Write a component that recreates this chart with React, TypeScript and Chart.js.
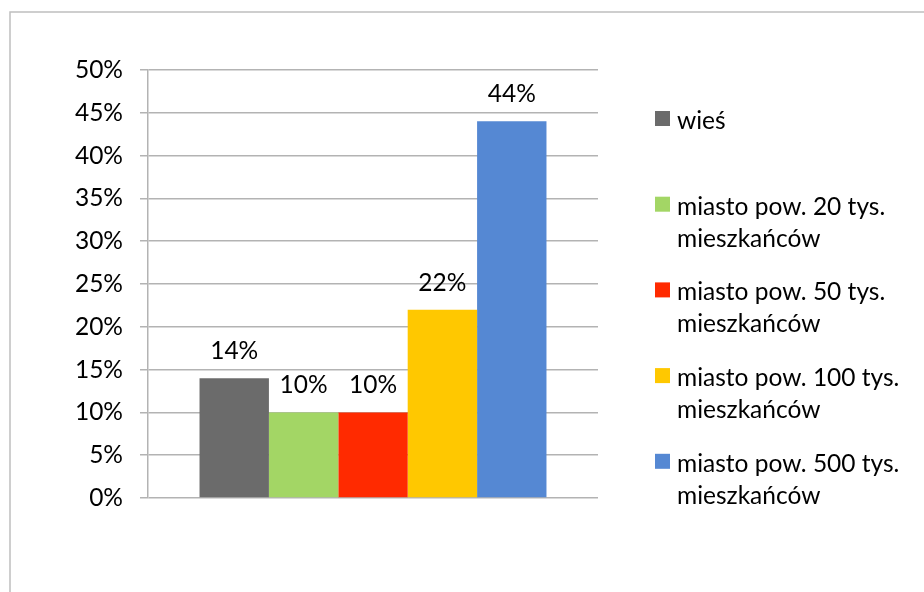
import React, { useEffect, useRef } from "react";
import { Chart, registerables } from "chart.js";

Chart.register(...registerables);

const categories = [""];
const seriesNames = [
  ["wieś"],
  ["miasto pow. 20 tys.", "mieszkańców"],
  ["miasto pow. 50 tys.", "mieszkańców"],
  ["miasto pow. 100 tys.", "mieszkańców"],
  ["miasto pow. 500 tys.", "mieszkańców"],
];
const seriesValues = [14, 10, 10, 22, 44];
const seriesColors = ["#6b6b6b", "#a3d665", "#ff2a00", "#ffc800", "#5588d3"];
const yTickMax = 50;
const yTickStep = 5;

const FONT = "Lato, 'Open Sans', sans-serif";
const FONT_SIZE = 24.5;

const framePlugin = {
  id: "frame",
  beforeDraw(chart: any) {
    const ctx = chart.ctx;
    ctx.save();
    ctx.strokeStyle = "#bfbfbf";
    ctx.lineWidth = 1.5;
    ctx.strokeRect(10, 12, 2000, 2000);
    ctx.restore();
  },
};

const labelPlugin = {
  id: "valueLabels",
  afterDatasetsDraw(chart: any) {
    const ctx = chart.ctx;
    ctx.save();
    ctx.font = `${FONT_SIZE}px ${FONT}`;
    ctx.fillStyle = "#000";
    ctx.textAlign = "center";
    ctx.textBaseline = "alphabetic";
    chart.data.datasets.forEach((ds: any, i: number) => {
      const meta = chart.getDatasetMeta(i);
      meta.data.forEach((el: any, j: number) => {
        ctx.fillText(`${ds.data[j]}%`, el.x, el.y - 19);
      });
    });
    ctx.restore();
  },
};

const legendPlugin = {
  id: "customLegend",
  afterDraw(chart: any) {
    const ctx = chart.ctx;
    ctx.save();
    ctx.font = `${FONT_SIZE}px ${FONT}`;
    ctx.textAlign = "left";
    ctx.textBaseline = "alphabetic";
    const x0 = 655;
    let top = 111;
    chart.data.datasets.forEach((ds: any) => {
      ctx.fillStyle = ds.backgroundColor;
      ctx.fillRect(x0, top, 15, 15);
      ctx.fillStyle = "#000";
      const lines: string[] = ds.legendLines;
      lines.forEach((ln: string, k: number) => {
        ctx.fillText(ln, x0 + 22, top + 18 + k * 32);
      });
      top += 85.7;
    });
    ctx.restore();
  },
};

export default function App() {
  const ref = useRef<HTMLCanvasElement | null>(null);
  useEffect(() => {
    if (!ref.current) return;
    const chart = new Chart(ref.current, {
      type: "bar",
      data: {
        labels: categories,
        datasets: seriesValues.map((v, i) => ({
          label: seriesNames[i].join(" "),
          legendLines: seriesNames[i],
          data: [v],
          backgroundColor: seriesColors[i],
          borderWidth: 0,
          barPercentage: 1,
          categoryPercentage: 0.771,
        })) as any,
      },
      options: {
        responsive: false,
        animation: false,
        devicePixelRatio: 1,
        layout: { padding: { left: 0, right: 326, top: 70, bottom: 94 } },
        plugins: {
          legend: { display: false },
          tooltip: { enabled: false },
        },
        scales: {
          x: { display: false },
          y: {
            min: 0,
            max: yTickMax,
            afterFit(scale: any) {
              scale.width = 148;
            },
            ticks: {
              stepSize: yTickStep,
              padding: 17,
              color: "#000",
              font: { family: FONT, size: FONT_SIZE },
              callback: (v: any) => `${v}%`,
            },
            grid: {
              color: "#b3b3b3",
              lineWidth: 1.5,
              tickLength: 8,
              drawTicks: true,
            },
            border: { display: true, color: "#b3b3b3", width: 1.5 },
          },
        },
      },
      plugins: [framePlugin, labelPlugin, legendPlugin],
    });
    return () => chart.destroy();
  }, []);
  return (
    <div style={{ position: "absolute", left: 0, top: 0, width: 924, height: 592, background: "#fff" }}>
      <canvas ref={ref} width={924} height={592} style={{ width: 924, height: 592 }} />
    </div>
  );
}
